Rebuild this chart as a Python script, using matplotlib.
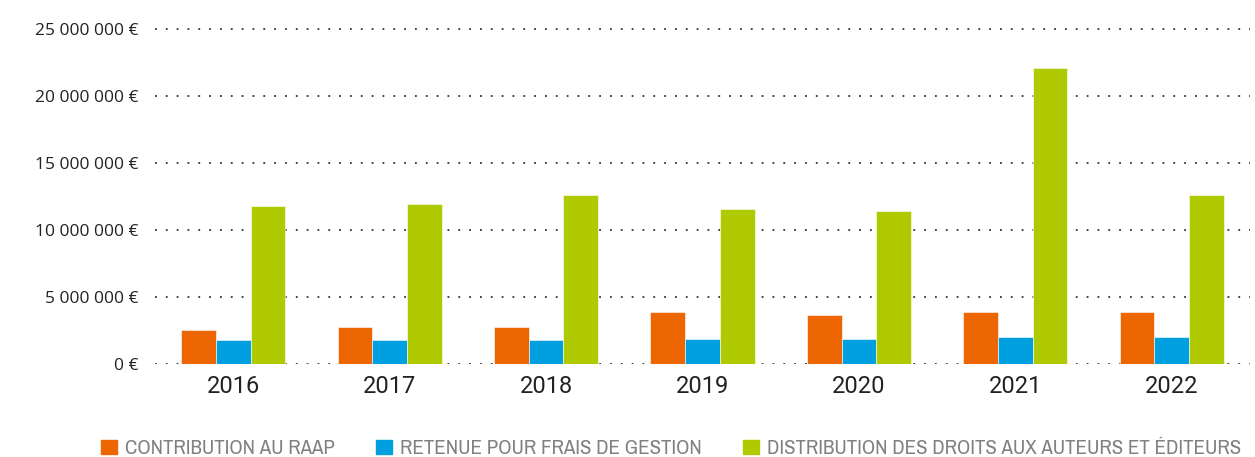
import matplotlib
matplotlib.use("Agg")
import matplotlib.pyplot as plt
import matplotlib.patches as mpatches
from matplotlib import font_manager
import numpy as np

years = ["2016", "2017", "2018", "2019", "2020", "2021", "2022"]
contribution_raap = [2.54e6, 2.76e6, 2.76e6, 3.88e6, 3.66e6, 3.90e6, 3.90e6]
retenue_frais = [1.76e6, 1.79e6, 1.80e6, 1.87e6, 1.87e6, 1.99e6, 2.04e6]
distribution_droits = [11.8e6, 11.96e6, 12.6e6, 11.57e6, 11.42e6, 22.1e6, 12.6e6]
series_labels = ["CONTRIBUTION AU RAAP", "RETENUE POUR FRAIS DE GESTION",
                 "DISTRIBUTION DES DROITS AUX AUTEURS ET ÉDITEURS"]
colors = ["#EE6602", "#009FDF", "#AFCA00"]
yticks = [0, 5e6, 10e6, 15e6, 20e6, 25e6]
ytick_labels = ["0 €", "5 000 000 €", "10 000 000 €", "15 000 000 €",
                "20 000 000 €", "25 000 000 €"]

# pick a narrow font for the legend if one is installed
narrow = None
for f in font_manager.fontManager.ttflist:
    n = f.name.lower()
    if ("narrow" in n or "condensed" in n) and f.weight in (400, "normal", "regular") and f.style == "normal":
        narrow = f.name
        break
leg_family = [narrow, "DejaVu Sans"] if narrow else ["DejaVu Sans"]

fig = plt.figure(figsize=(12.55, 4.57), dpi=100)
ax = fig.add_axes([155/1255, 93/457, 1095/1255, 341.7/457])

x = np.arange(len(years))
w = 0.222
for i, (vals, c) in enumerate(zip([contribution_raap, retenue_frais, distribution_droits], colors)):
    ax.bar(x + (i - 1) * w, vals, width=w, color=c, edgecolor="white",
           linewidth=0.4, zorder=2)

ax.set_xlim(-0.5, 6.5)
ax.set_ylim(0, 25.5e6)
ax.set_yticks(yticks)
ax.set_yticklabels(ytick_labels, fontsize=12.5, color="#222222", family="Open Sans")
ax.set_xticks(x)
ax.set_xticklabels(years, fontsize=17, color="#222222", family="Roboto")
ax.tick_params(axis="y", length=0, pad=12)
ax.tick_params(axis="x", length=0, pad=8)
for s in ax.spines.values():
    s.set_visible(False)
ax.yaxis.grid(True, linestyle=(0, (1, 5)), linewidth=1.3, color="#333333", zorder=0)
ax.set_axisbelow(True)

# size legend font so the first label spans about 210 px
renderer = fig.canvas.get_renderer()
probe = fig.text(0, 0, series_labels[0], family=leg_family, fontsize=12)
wpx = probe.get_window_extent(renderer).width
probe.remove()
leg_size = 12 * 210 / wpx
leg_px = leg_size * 100 / 72

handles = [mpatches.Patch(color=c) for c in colors]
leg = fig.legend(handles, series_labels, loc="center", bbox_to_anchor=(671/1255, 8/457),
                 ncol=3, frameon=False, handlelength=16/leg_px, handleheight=13/leg_px,
                 handletextpad=8/leg_px, columnspacing=41/leg_px, borderpad=0,
                 prop={"family": leg_family, "size": leg_size})
for t in leg.get_texts():
    t.set_color("#808080")

fig.savefig("out.png", dpi=100)
